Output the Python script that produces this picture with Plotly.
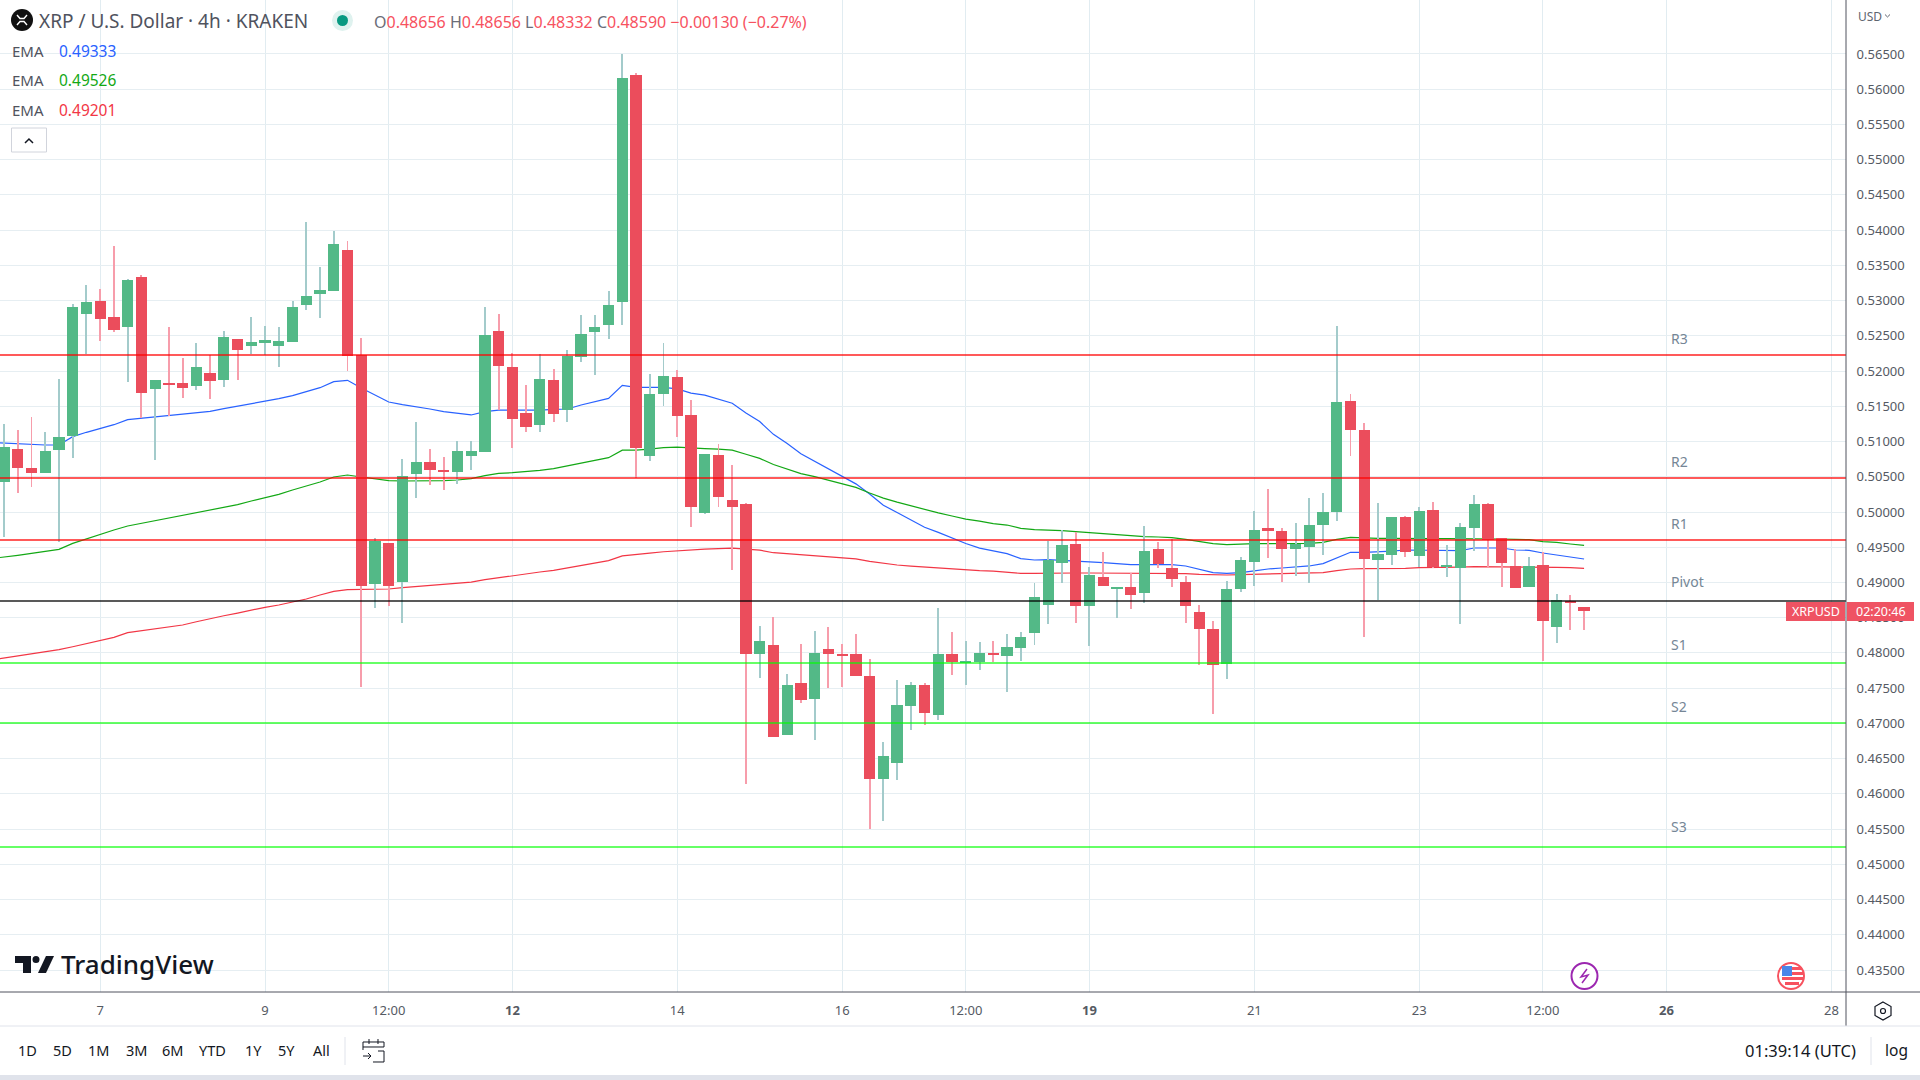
import pandas as pd
import plotly.graph_objects as go

FIRST_CANDLE = "2023-06-05 20:00"
FIRST_EMA = "2023-06-05 16:00"

opens = [.50430,.50894,.50624,.50553,.50880,.51078,.52810,
 .52995,.52767,.52626,.53335,.51746,.51831,.51831,.51788,.51973,.51873,.52455,.52356,.52398,.52356,.52413,.52938,.53094,.53136,.53718,.52228,.48978,.49560,.49006,.50539,.50709,.50596,.50568,.50795,.50851,.52569,.52058,.51405,.51235,.51873,.51447,.52200,.52555,.52651,
 .52977,.56199,.50798,.51674,.51913,.51377,.49987,.50812,.50168,.50117,.47988,.48111,.46837,.47575,.47344,.48053,.47974,.47988,.47669,.46214,.46438,.47249,.47546,.47119,.47988,.47858,.47865,.48003,
 .47956,.48070,.48283,.48680,.49276,.49546,.48666,.49077,.48921,.48936,.48850,.49475,.49205,.49006,.48581,.48339,.47843,.48907,.49290,.49773,.49730,.49475,.49503,.49815,
 .50000,.51575,.51164,.49319,.49390,.49929,.49375,.50028,.49219,.49205,.49773,.50113,.49631,.49234,.48935,.49248,.48368,.48737,.48656]
closes = [.50922,.50624,.50553,.50866,.51064,.52909,.52980,
 .52739,.52583,.53293,.51689,.51873,.51816,.51760,.52058,.51859,.52484,.52299,.52413,.52441,.52427,.52909,.53065,.53151,.53804,.52214,.48950,.49588,.48950,.50511,.50709,.50596,.50568,.50866,.50866,.52512,.52072,.51320,.51206,.51887,.51391,.52214,.52526,.52626,.52938,
 .56163,.50906,.51674,.51927,.51362,.50073,.50827,.50211,.50073,.47988,.48169,.46808,.47546,.47329,.48003,.47988,.47959,.47669,.46214,.46540,.47264,.47546,.47148,.47988,.47865,.47872,.48003,.47974,
 .48084,.48226,.48794,.49319,.49532,.48666,.49106,.48950,.48936,.48822,.49446,.49262,.49049,.48666,.48339,.47828,.48907,.49319,.49744,.49730,.49475,.49546,.49815,.50000,
 .51561,.51164,.49333,.49404,.49929,.49432,.50014,.49219,.49248,.49787,.50113,.49603,.49276,.48921,.49234,.48453,.48751,.48708,.48590]
highs = [.51249,.51164,.51348,.51135,.51887,.52952,.53222,
 .53165,.53775,.53307,.53364,.51873,.52626,.52185,.52398,.52228,.52569,.52455,.52767,.52640,.52626,.52995,.54116,.53477,.53988,.53846,.52469,.49631,.49560,.50752,.51277,.50894,.50780,.51008,.51008,.52909,.52810,.52256,.51802,.52242,.52029,.52299,.52796,.52796,.53136,
 .56503,.56228,.51956,.52398,.52014,.51587,.50827,.50964,.50667,.50131,.48379,.48509,.47698,.48126,.48314,.48365,.48126,.48270,.47916,.46735,.47619,.47590,.47575,.48640,.48299,.48169,.48155,.48169,
 .48268,.48297,.48992,.49588,.49744,.49716,.49219,.49432,.48936,.49134,.49801,.49574,.49617,.49092,.48680,.48453,.49021,.49361,.50014,.50326,.49773,.49844,.50199,.50270,
 .52640,.51675,.51263,.50128,.49929,.49943,.50071,.50142,.49532,.49844,.50241,.50128,.49631,.49475,.49361,.49432,.48836,.48822,.48656]
lows = [.49650,.50274,.50359,.50553,.49579,.50766,.52242,
 .52427,.52555,.51845,.51329,.50738,.51362,.51618,.51731,.51604,.51774,.51873,.52242,.52228,.52058,.52413,.52867,.52753,.53136,.52001,.47516,.48637,.48666,.48424,.50198,.50383,.50312,.50397,.50596,.50851,.51447,.50908,.51135,.51135,.51277,.51277,.52129,.51944,.52455,
 .52651,.50486,.50725,.51500,.51065,.49784,.49972,.50073,.49176,.46142,.47648,.46808,.46837,.47293,.46764,.47503,.47517,.47669,.45504,.45620,.46200,.46909,.46982,.47047,.47684,.47546,.47756,.47865,
 .47450,.47885,.48112,.48410,.48992,.48425,.48098,.48950,.48495,.48623,.48708,.49205,.48936,.48425,.47828,.47133,.47630,.48865,.48950,.49347,.49006,.49092,.48992,.49390,
 .49872,.50795,.48226,.48751,.49248,.49361,.49219,.49205,.49077,.48410,.49446,.49219,.48935,.48921,.48935,.47885,.48141,.48325,.48332]

ema_blue = [.50989,.50979,.50970,.50955,.50951,.50951,.51069,.51131,.51187,.51239,.51310,.51329,.51348,.51367,.51386,.51410,.51429,.51466,.51500,.51537,.51575,.51608,.51651,.51708,.51764,.51850,.51869,.51760,.51660,.51561,.51523,.51495,.51462,.51424,.51400,.51377,.51424,.51447,.51447,.51443,.51447,.51457,.51462,.51518,.51566,.51613,
 .51797,.51768,.51768,.51768,.51746,.51688,.51659,.51601,.51543,.51406,.51283,.51102,.50971,.50827,.50718,.50617,.50508,.50399,.50255,.50095,.49994,.49892,.49784,.49711,.49632,.49552,.49487,.49443,
 .49409,.49338,.49319,.49323,.49314,.49309,.49295,.49281,.49267,.49252,.49252,.49257,.49252,.49234,.49191,.49139,.49129,.49139,.49163,.49191,.49205,.49215,.49234,.49267,.49342,.49428,.49428,.49432,.49446,.49461,.49456,.49451,.49456,.49451,.49489,.49494,.49489,.49461,.49456,.49418,.49390,.49361,.49333]
ema_green = [.49337,.49356,.49385,.49413,.49442,.49470,.49555,.49621,.49683,.49744,.49801,.49839,.49872,.49910,.49943,.49981,.50019,.50061,.50104,.50156,.50203,.50251,.50312,.50369,.50426,.50497,.50525,.50497,.50473,.50445,.50440,.50440,.50445,.50445,.50454,.50473,.50515,.50549,.50558,.50572,.50591,.50615,.50653,.50691,.50728,.50771,
 .50877,.50877,.50892,.50913,.50921,.50906,.50899,.50892,.50877,.50819,.50761,.50674,.50609,.50544,.50501,.50450,.50399,.50349,.50269,.50197,.50139,.50088,.50030,.49987,.49943,.49900,.49871,.49835,
 .49815,.49768,.49749,.49744,.49735,.49721,.49707,.49692,.49674,.49655,.49650,.49645,.49636,.49612,.49579,.49551,.49536,.49546,.49551,.49551,.49551,.49551,.49555,.49569,.49612,.49640,.49631,.49626,.49626,.49621,.49621,.49621,.49621,.49621,.49626,.49621,.49617,.49612,.49607,.49579,.49569,.49546,.49526]
ema_red = [.47899,.47928,.47961,.47994,.48017,.48046,.48088,.48131,.48174,.48221,.48287,.48316,.48339,.48368,.48396,.48443,.48491,.48528,.48566,.48609,.48647,.48680,.48718,.48765,.48822,.48874,.48897,.48897,.48902,.48907,.48926,.48940,.48954,.48968,.48987,.49006,.49039,.49068,.49091,.49120,.49148,.49172,.49205,.49238,.49271,.49309,
 .49378,.49393,.49415,.49436,.49451,.49458,.49472,.49480,.49487,.49472,.49458,.49422,.49407,.49386,.49371,.49364,.49349,.49335,.49299,.49270,.49248,.49233,.49219,.49205,.49190,.49176,.49168,.49161,
 .49148,.49129,.49129,.49134,.49134,.49134,.49134,.49134,.49129,.49129,.49129,.49129,.49129,.49125,.49115,.49106,.49106,.49111,.49115,.49120,.49120,.49125,.49129,.49139,.49167,.49191,.49196,.49196,.49196,.49200,.49210,.49210,.49215,.49219,.49224,.49224,.49224,.49224,.49219,.49215,.49215,.49210,.49201]

level_names = ["R3", "R2", "R1", "Pivot", "S1", "S2", "S3"]
level_values = [.52228, .50482, .49602, .48737, .47857, .47005, .45246]
level_colors = ["rgba(255,0,0,0.65)"] * 3 + ["rgba(0,0,0,0.65)"] + ["rgba(0,255,0,0.6)"] * 3
level_label_lift = [17, 17, 17, 19, 19, 17, 20]

tick_dates = ["2023-06-07", "2023-06-09", "2023-06-10 12:00", "2023-06-12", "2023-06-14", "2023-06-16", "2023-06-17 12:00",
              "2023-06-19", "2023-06-21", "2023-06-23", "2023-06-24 12:00", "2023-06-26", "2023-06-28"]
tick_labels = ["7", "9", "12:00", "<b>12</b>", "14", "16", "12:00", "<b>19</b>", "21", "23", "12:00", "<b>26</b>", "28"]
price_ticks = [0.435 + 0.005 * i for i in range(27)]
range_labels = ["1D", "5D", "1M", "3M", "6M", "YTD", "1Y", "5Y", "All"]
range_x = [27.5, 62, 98, 136, 172, 212.5, 253, 286.6, 321.5]

UP, DOWN = "#53b987", "#eb4d5c"
UP_WICK, DOWN_WICK = "#a3cbcb", "#f79dab"
FONT = "Noto Sans"
TEXT = "#555a63"
Y_RANGE = [0.43188, 0.57266]
X_RANGE = ["2023-06-05 18:50", "2023-06-28 04:15"]
FOUR_H = 4 * 3600 * 1000

candle_times = pd.date_range(FIRST_CANDLE, periods=len(opens), freq="4h")
ema_times = pd.date_range(FIRST_EMA, periods=len(ema_blue), freq="4h")
is_up = [c >= o for o, c in zip(opens, closes)]

fig = go.Figure()
for vals, col, nm in [(ema_blue, "#2962ff", "EMA 1"), (ema_green, "#13a815", "EMA 2"), (ema_red, "#f23645", "EMA 3")]:
    fig.add_trace(go.Scatter(x=ema_times, y=vals, mode="lines", name=nm, line=dict(color=col, width=1.2),
                             hoverinfo="skip"))
fig.add_trace(go.Bar(x=candle_times, base=lows, y=[h - l for h, l in zip(highs, lows)], yaxis="y2", width=FOUR_H * 0.07,
                     marker=dict(color=[UP_WICK if u else DOWN_WICK for u in is_up], line_width=0), name="wick"))
fig.add_trace(go.Bar(x=candle_times, base=[min(o, c) for o, c in zip(opens, closes)],
                     y=[abs(o - c) for o, c in zip(opens, closes)], yaxis="y2", width=FOUR_H * 0.82,
                     marker=dict(color=[UP if u else DOWN for u in is_up], line_width=0), name="body"))


def X(x): return x / 1920
def Y(y): return 1 - y / 1080


shapes, notes = [], []


def line(x0, y0, x1, y1, color, width=1):
    shapes.append(dict(type="line", xref="paper", yref="paper", x0=X(x0), y0=Y(y0), x1=X(x1), y1=Y(y1),
                       line=dict(color=color, width=width), layer="above"))


def box(kind, x0, y0, x1, y1, fill="rgba(0,0,0,0)", color="rgba(0,0,0,0)", width=0):
    shapes.append(dict(type=kind, xref="paper", yref="paper", x0=X(x0), y0=Y(y0), x1=X(x1), y1=Y(y1),
                       fillcolor=fill, line=dict(color=color, width=width), layer="above"))


def path(points, color="rgba(0,0,0,0)", width=1, fill="rgba(0,0,0,0)", close=False):
    d = "M" + " L".join(f"{X(px):.5f},{Y(py):.5f}" for px, py in points) + (" Z" if close else "")
    shapes.append(dict(type="path", xref="paper", yref="paper", path=d, fillcolor=fill,
                       line=dict(color=color, width=width), layer="above"))


def text(x, y, s, size=14, color=TEXT, anchor="left", family=FONT, weight=400):
    notes.append(dict(xref="paper", yref="paper", x=X(x), y=Y(y), text=s, showarrow=False, xanchor=anchor, yanchor="middle",
                      font=dict(size=size, color=color, family=family, weight=weight), borderpad=0))


# pivot levels
for nm, val, col, lift in zip(level_names, level_values, level_colors, level_label_lift):
    shapes.append(dict(type="line", xref="paper", yref="y", x0=0, x1=X(1846), y0=val, y1=val,
                       line=dict(color=col, width=2), layer="above"))
    notes.append(dict(xref="paper", yref="y", x=X(1669), y=val, yshift=lift, text=nm, showarrow=False, xanchor="left",
                      yanchor="middle", font=dict(size=14, color="#758696", family=FONT)))

# frame lines
line(1846, 0, 1846, 1026, "#50535e", 1)
line(0, 992, 1920, 992, "#50535e", 1)
line(0, 1026, 1920, 1026, "#e0e3eb", 1)
box("rect", 0, 1075, 1920, 1080, fill="#e0e3eb")

# header
box("circle", 11, 9, 33, 31, fill="#111111")
path([(17, 15), (20, 18.5), (24, 18.5), (27, 15)], "#ffffff", 1.4)
path([(17, 25), (20, 21.5), (24, 21.5), (27, 25)], "#ffffff", 1.4)
text(38, 21, "XRP / U.S. Dollar · 4h · KRAKEN", 19, "#50535e")
box("circle", 332, 10, 353, 31, fill="#dff2ef")
box("circle", 337, 15, 348, 26, fill="#089981")
R = "#f7525f"
G = "#6a6d78"
ohlc = (f'<span style="color:{G}">O</span>0.48656 <span style="color:{G}">H</span>0.48656 '
        f'<span style="color:{G}">L</span>0.48332 <span style="color:{G}">C</span>0.48590 −0.00130 (−0.27%)')
text(373, 22, ohlc, 16, R)
for yy, val, col in [(51, "0.49333", "#2962ff"), (80, "0.49526", "#13a815"), (110, "0.49201", "#f23645")]:
    text(11, yy, "EMA", 15, "#50535e")
    text(58, yy, val, 15.5, col)
shapes.append(dict(type="rect", xref="paper", yref="paper", x0=X(11.5), x1=X(46.5), y0=Y(128), y1=Y(152),
                   line=dict(color="#d1d4dc", width=1), fillcolor="#ffffff", layer="above"))
path([(25, 143), (29, 139), (33, 143)], "#131722", 1.5)

# logo
box("rect", 15, 956, 31, 963, fill="#131722")
box("rect", 23, 956, 31, 973, fill="#131722")
box("circle", 32.5, 956, 39.5, 963, fill="#131722")
path([(46, 956), (54, 956), (46, 973), (38, 973)], fill="#131722", close=True)
text(60, 964, "TradingView", 26, "#131722", weight=500)

# current price tag
box("rect", 1786, 602, 1845, 621, fill="#ef5363")
box("rect", 1847, 602, 1914, 621, fill="#ef5363")
text(1815.5, 611.5, "XRPUSD", 12.5, "#ffffff", "center")
text(1880.5, 611.5, "02:20:46", 12.5, "#ffffff", "center")

# events on the time axis
box("circle", 1571.5, 963, 1597.5, 989, fill="#ffffff", color="#9c27b0", width=2)
path([(1587, 969), (1581, 977), (1588, 975), (1582, 983)], "#9c27b0", 1.5)
box("circle", 1778, 963, 1804, 989, fill="#ffffff", color="#f7525f", width=2)
box("rect", 1782, 966, 1792, 976, fill="#4a86e8")
box("rect", 1792, 967, 1802, 970, fill="#f7525f")
box("rect", 1792, 972, 1803, 975, fill="#f7525f")
box("rect", 1782, 977, 1803, 980, fill="#f7525f")
box("rect", 1785, 982, 1799, 985, fill="#f7525f")

# bottom toolbar
for lab, x in zip(range_labels, range_x):
    text(x, 1050, lab, 14.5, "#131722", "center")
line(345, 1037, 345, 1065, "#e0e3eb", 1)
path([(378, 1051), (384, 1051), (384, 1062), (373, 1062)], "#131722", 1)
path([(363, 1050), (363, 1042), (384, 1042), (384, 1047), (363, 1047)], "#131722", 1)
path([(369, 1039), (369, 1044)], "#131722", 1)
path([(378, 1039), (378, 1044)], "#131722", 1)
path([(363, 1056), (371, 1056)], "#131722", 1)
path([(368, 1053), (371, 1056), (368, 1059)], "#131722", 1)
text(1857, 1050, "01:39:14 (UTC)", 16.5, "#131722", "right")
line(1871, 1037, 1871, 1065, "#e0e3eb", 1)
text(1896, 1050, "log", 15.5, "#131722", "center")

# settings icon
path([(1883, 1002), (1891, 1006.5), (1891, 1015.5), (1883, 1020), (1875, 1015.5), (1875, 1006.5)], "#131722", 1.2, close=True)
box("circle", 1880.5, 1008.5, 1885.5, 1013.5, color="#131722", width=1.2)

# currency selector
text(1857, 16, "USD", 12, "#5f6570")
path([(1885, 14.5), (1887.5, 17), (1890, 14.5)], "#5f6570", 1)

GRID = "#e6eef2"
fig.update_layout(
    width=1920, height=1080, margin=dict(l=0, r=0, t=0, b=0), paper_bgcolor="#ffffff", plot_bgcolor="#ffffff",
    showlegend=False, barmode="overlay", hovermode=False, font=dict(family=FONT, color=TEXT),
    shapes=shapes, annotations=notes, bargap=0,
    xaxis=dict(type="date", domain=[0, X(1846)], range=X_RANGE, tickmode="array", tickvals=tick_dates, ticktext=tick_labels,
               showgrid=True, gridcolor="#e1ecf1", gridwidth=1, zeroline=False, ticks="outside", ticklen=6,
               tickcolor="rgba(0,0,0,0)", tickfont=dict(size=13, color=TEXT, family=FONT), showline=False, anchor="y"),
    yaxis=dict(domain=[Y(992), 1], range=Y_RANGE, side="right", tickmode="array", tickvals=price_ticks, tickformat=".5f",
               showgrid=True, gridcolor=GRID, gridwidth=1, zeroline=False, ticks="outside", ticklen=7,
               tickcolor="rgba(0,0,0,0)", tickfont=dict(size=13, color=TEXT, family=FONT), showline=False, anchor="x"),
    yaxis2=dict(overlaying="y", domain=[Y(992), 1], range=Y_RANGE, side="right", showgrid=False, zeroline=False,
                showticklabels=False, ticks="", anchor="x"),
)
fig.write_html("out.html", config=dict(displayModeBar=False),
               post_script="document.body.style.margin='0';document.body.style.overflow='hidden';")
